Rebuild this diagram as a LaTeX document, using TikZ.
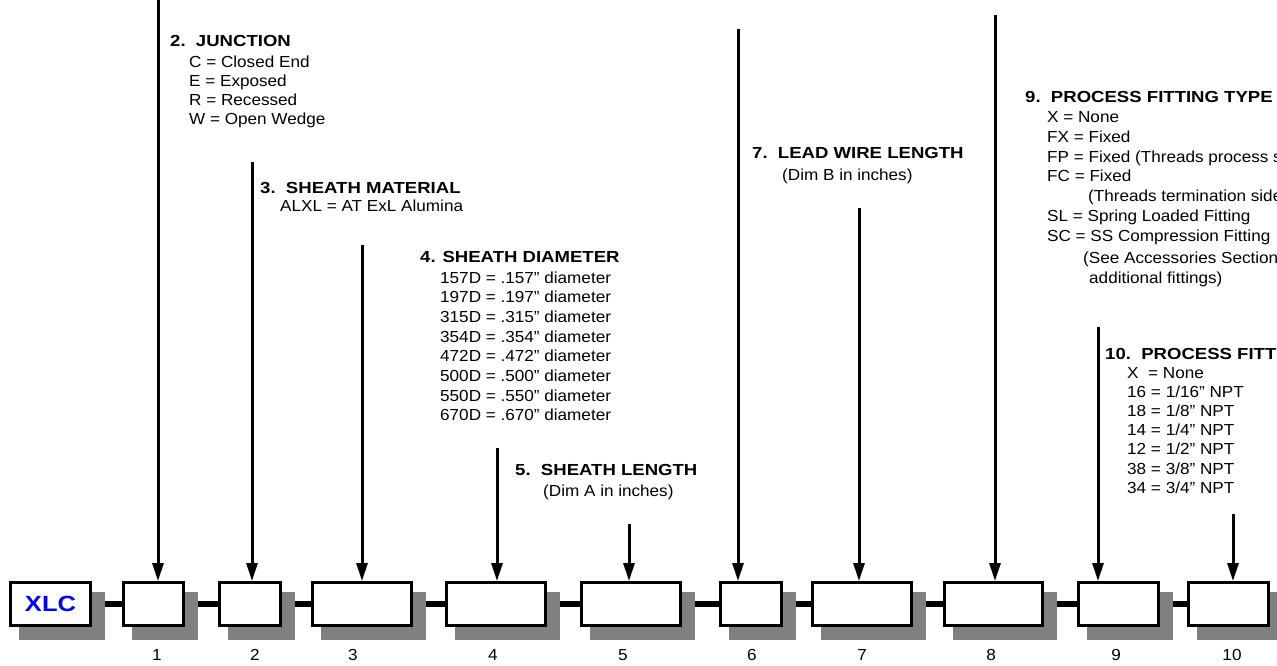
\documentclass[tikz,border=0pt]{standalone}
\usepackage{fontspec}
\setmainfont{Liberation Sans}[FakeStretch=1.07]
\newfontfamily\hdfont{Liberation Sans Bold}[FakeStretch=1.16]
\usetikzlibrary{arrows.meta,backgrounds}
\definecolor{shadowgray}{RGB}{128,128,128}
\definecolor{xlcblue}{RGB}{0,0,255}
\begin{document}
\begin{tikzpicture}[x=1pt,y=-1pt,
  txt/.style={font=\fontsize{16}{19.5}\selectfont, anchor=base west, inner sep=0pt},
  hd/.style={font=\hdfont\fontsize{16}{19.5}\selectfont, anchor=base west, inner sep=0pt},
  num/.style={font=\fontsize{16}{19.5}\selectfont, anchor=base, inner sep=0pt},
  codebox/.style={draw, line width=3pt, fill=white, minimum height=43pt, inner sep=0pt},
  arr/.style={line width=3pt, -{Triangle[length=18pt,width=11pt]}},
  link/.style={line width=6pt},
]
\useasboundingbox (0,0) rectangle (1277,665);
\clip (0,0) rectangle (1277,665);

% code boxes
\node[codebox, minimum width=80pt, font=\hdfont\fontsize{22}{22}\selectfont, text=xlcblue] (b0) at (50.5,604) {XLC};
\node[codebox, minimum width=60pt] (b1) at (153.5,604) {};
\node[codebox, minimum width=61pt] (b2) at (250,604) {};
\node[codebox, minimum width=99pt] (b3) at (362,604) {};
\node[codebox, minimum width=99pt] (b4) at (496,604) {};
\node[codebox, minimum width=99pt] (b5) at (631,604) {};
\node[codebox, minimum width=61pt] (b6) at (751,604) {};
\node[codebox, minimum width=99pt] (b7) at (862,604) {};
\node[codebox, minimum width=98pt] (b8) at (993.5,604) {};
\node[codebox, minimum width=80pt] (b9) at (1118.5,604) {};
\node[codebox, minimum width=80pt] (b10) at (1228.5,604) {};

\begin{scope}[on background layer]
  \foreach \p/\q in {b0/b1,b1/b2,b2/b3,b3/b4,b4/b5,b5/b6,b6/b7,b7/b8,b8/b9,b9/b10}
    \draw[link] (\p.east) -- (\q.west);
  \foreach \b in {b0,b1,b2,b3,b4,b5,b6,b7,b8,b9,b10}
    \fill[fill=shadowgray] ([xshift=10pt,yshift=-11pt]\b.north west) rectangle ([xshift=13pt,yshift=-13pt]\b.south east);
\end{scope}

% numbers under boxes
\foreach \x/\n in {157/1,255/2,353/3,493/4,623/5,752/6,862/7,991/8,1116/9,1232/10}
  \node[num] (n\n) at (\x,660) {\n};

% arrows
\coordinate (a1) at (158,-3);
\coordinate (a2) at (252,162);
\coordinate (a3) at (362,245);
\coordinate (a4) at (497,448);
\coordinate (a5) at (629,524);
\coordinate (a6) at (738,29);
\coordinate (a7) at (859,208);
\coordinate (a8) at (995,15);
\coordinate (a9) at (1098,327);
\coordinate (a10) at (1233,514);
\foreach \i in {1,...,10}
  \draw[arr] (a\i) -- (a\i |- b\i.north);

% 2. Junction
\node[hd] (h2) at (170,46) {2.\ \ JUNCTION};
\foreach \t [count=\i from 0] in {C = Closed End, E = Exposed, R = Recessed, W = Open Wedge}
  \node[txt] (j\i) at (189,67+19.3*\i) {\t};

% 3. Sheath material
\node[hd] (h3) at (260,193) {3.\ \ SHEATH MATERIAL};
\node[txt] (m1) at (280,211) {ALXL = AT ExL Alumina};

% 4. Sheath diameter
\node[hd] (h4) at (420,262) {4. SHEATH DIAMETER};
\foreach \t [count=\i from 0] in {157D = .157” diameter, 197D = .197” diameter, 315D = .315” diameter, 354D = .354” diameter, 472D = .472” diameter, 500D = .500” diameter, 550D = .550” diameter, 670D = .670” diameter}
  \node[txt] (d\i) at (440,283+19.7*\i) {\t};

% 5. Sheath length
\node[hd] (h5) at (515,475) {5.\ \ SHEATH LENGTH};
\node[txt] (l5) at (543,496) {(Dim A in inches)};

% 7. Lead wire length
\node[hd] (h7) at (752,158) {7.\ \ LEAD WIRE LENGTH};
\node[txt] (l7) at (782,180) {(Dim B in inches)};

% 9. Process fitting type
\node[hd] (h9) at (1025,102) {9.\ \ PROCESS FITTING TYPE};
\node[txt] (f1) at (1047,122) {X = None};
\node[txt] (f2) at (1047,142) {FX = Fixed};
\node[txt] (f3) at (1047,162) {FP = Fixed (Threads process side)};
\node[txt] (f4) at (1047,181) {FC = Fixed};
\node[txt] (f5) at (1088,201) {(Threads termination side)};
\node[txt] (f6) at (1047,221) {SL = Spring Loaded Fitting};
\node[txt] (f7) at (1047,241) {SC = SS Compression Fitting};
\node[txt] (f8) at (1083,263) {(See Accessories Section};
\node[txt] (f9) at (1089,283) {additional fittings)};

% 10. Process fitting
\node[hd] (h10) at (1105,359) {10.\ \ PROCESS FITTING};
\foreach \t [count=\i from 0] in {X\ \ = None, 16 = 1/16” NPT, 18 = 1/8” NPT, 14 = 1/4” NPT, 12 = 1/2” NPT, 38 = 3/8” NPT, 34 = 3/4” NPT}
  \node[txt] (s\i) at (1127,378+19.2*\i) {\t};
\end{tikzpicture}
\end{document}
